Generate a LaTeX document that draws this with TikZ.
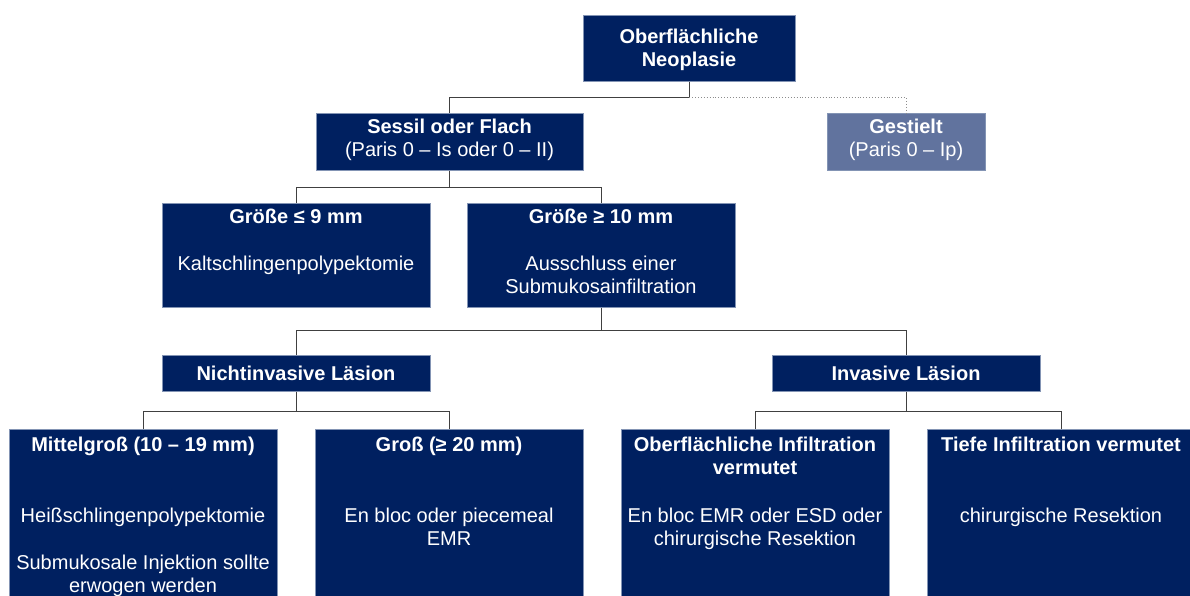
\documentclass[tikz,border=0pt]{standalone}
\usepackage{fontspec}
\setmainfont{Liberation Sans}
\definecolor{navy}{HTML}{002060}
\definecolor{lightnavy}{HTML}{61739E}
\definecolor{boxline}{HTML}{8394B4}
\definecolor{linegray}{HTML}{404040}
\definecolor{dotgray}{HTML}{8C8C8C}
\begin{document}
\begin{tikzpicture}[x=1pt,y=-1pt,
  box/.style={fill=navy, draw=boxline, line width=0.6pt, anchor=north west, inner sep=0pt},
  lite/.style={box, fill=lightnavy},
  txt/.style={text=white, font=\fontsize{20}{23}\selectfont, anchor=base, inner sep=0pt},
  hd/.style={text=white, font=\fontsize{20}{23}\selectfont\bfseries, anchor=base, inner sep=0pt},
  conn/.style={draw=linegray, line width=0.9pt},
  dotconn/.style={draw=dotgray, line width=0.9pt, dotted}]
\useasboundingbox (0,0) rectangle (1190,595);
\clip (0,0) rectangle (1190,595);

% boxes
\node[box, minimum width=212pt, minimum height=66pt] (top) at (583,15) {};
\node[box, minimum width=267pt, minimum height=57pt] (sessil) at (316,113) {};
\node[lite, minimum width=158pt, minimum height=57pt] (gest) at (827,113) {};
\node[box, minimum width=268pt, minimum height=104pt] (klein) at (162,203) {};
\node[box, minimum width=268pt, minimum height=104pt] (gross10) at (467,203) {};
\node[box, minimum width=268pt, minimum height=36pt] (nichtinv) at (162,355) {};
\node[box, minimum width=268pt, minimum height=36pt] (inv) at (772,355) {};
\node[box, minimum width=268pt, minimum height=220pt] (mittel) at (9,429) {};
\node[box, minimum width=268pt, minimum height=220pt] (gross20) at (315,429) {};
\node[box, minimum width=268pt, minimum height=220pt] (oberfl) at (621,429) {};
\node[box, minimum width=268pt, minimum height=220pt] (tief) at (927,429) {};

% connectors
\coordinate (j1) at ([yshift=-16pt]top.south);
\draw[conn] (top.south) -- (j1) -| (sessil.north);
\draw[dotconn] (j1) -| (gest.north);
\coordinate (j2) at ([yshift=-17pt]sessil.south);
\draw[conn] (sessil.south) -- (j2) -| (klein.north);
\draw[conn] (j2) -| (gross10.north);
\coordinate (j3) at ([yshift=-23pt]gross10.south);
\draw[conn] (gross10.south) -- (j3) -| (nichtinv.north);
\draw[conn] (j3) -| (inv.north);
\coordinate (j4) at ([yshift=-20pt]nichtinv.south);
\draw[conn] (nichtinv.south) -- (j4) -| (mittel.north);
\draw[conn] (j4) -| (gross20.north);
\coordinate (j5) at ([yshift=-20pt]inv.south);
\draw[conn] (inv.south) -- (j5) -| (oberfl.north);
\draw[conn] (j5) -| (tief.north);

% texts
\node[hd] (top-1) at (689,43) {Oberflächliche};
\node[hd] (top-2) at (689,66) {Neoplasie};
\node[hd] (sessil-1) at (449.5,133) {Sessil oder Flach};
\node[txt] (sessil-2) at (449.5,156) {(Paris 0 – Is oder 0 – II)};
\node[hd] (gest-1) at (906,133) {Gestielt};
\node[txt] (gest-2) at (906,156) {(Paris 0 – Ip)};
\node[hd] (klein-1) at (296,223) {Größe ≤ 9 mm};
\node[txt] (klein-2) at (296,270) {Kaltschlingenpolypektomie};
\node[hd] (gross10-1) at (601,223) {Größe ≥ 10 mm};
\node[txt] (gross10-2) at (601,270) {Ausschluss einer};
\node[txt] (gross10-3) at (601,293) {Submukosainfiltration};
\node[hd] (nichtinv-1) at (296,380) {Nichtinvasive Läsion};
\node[hd] (inv-1) at (906,380) {Invasive Läsion};
\node[hd] (mittel-1) at (143,451) {Mittelgroß (10 – 19 mm)};
\node[txt] (mittel-2) at (143,522) {Heißschlingenpolypektomie};
\node[txt] (mittel-3) at (143,569) {Submukosale Injektion sollte};
\node[txt] (mittel-4) at (143,592) {erwogen werden};
\node[hd] (gross20-1) at (449,451) {Groß (≥ 20 mm)};
\node[txt] (gross20-2) at (449,522) {En bloc oder piecemeal};
\node[txt] (gross20-3) at (449,545) {EMR};
\node[hd] (oberfl-1) at (755,451) {Oberflächliche Infiltration};
\node[hd] (oberfl-2) at (755,474) {vermutet};
\node[txt] (oberfl-3) at (755,522) {En bloc EMR oder ESD oder};
\node[txt] (oberfl-4) at (755,545) {chirurgische Resektion};
\node[hd] (tief-1) at (1061,451) {Tiefe Infiltration vermutet};
\node[txt] (tief-2) at (1061,522) {chirurgische Resektion};
\end{tikzpicture}
\end{document}
